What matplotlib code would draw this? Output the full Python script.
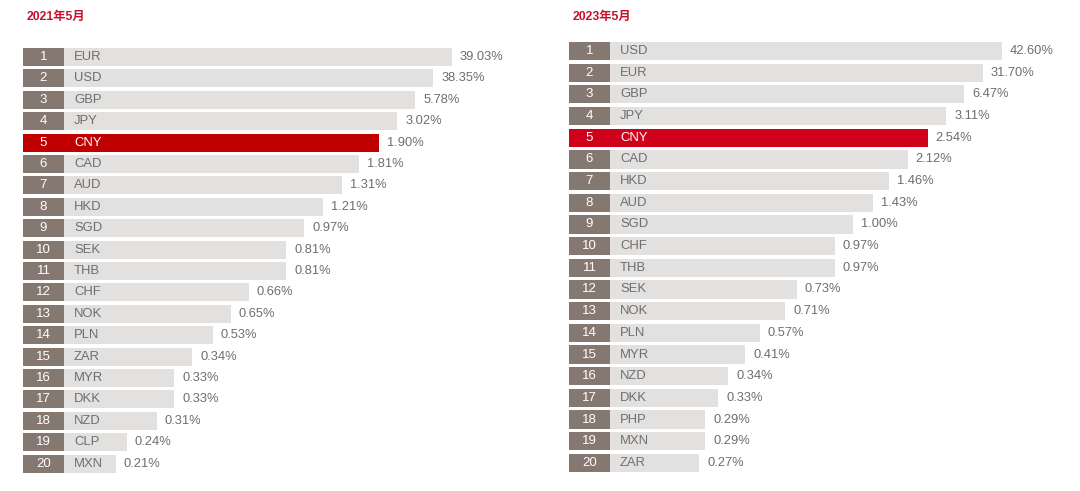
import matplotlib
matplotlib.use("Agg")
import matplotlib.pyplot as plt

# ---------------- DATA ----------------
ranks = list(range(1, 21))

cur_2021 = ["EUR", "USD", "GBP", "JPY", "CNY", "CAD", "AUD", "HKD", "SGD", "SEK",
            "THB", "CHF", "NOK", "PLN", "ZAR", "MYR", "DKK", "NZD", "CLP", "MXN"]
share_2021 = ["39.03%", "38.35%", "5.78%", "3.02%", "1.90%", "1.81%", "1.31%", "1.21%",
              "0.97%", "0.81%", "0.81%", "0.66%", "0.65%", "0.53%", "0.34%", "0.33%",
              "0.33%", "0.31%", "0.24%", "0.21%"]
# bar length as drawn in the picture (longest = 100), not proportional to share
len_2021 = [100, 95.6, 91.4, 87.2, 83.0, 78.4, 74.4, 70.0, 65.6, 61.4,
            61.4, 52.6, 48.4, 44.2, 39.5, 35.3, 35.3, 31.2, 24.2, 21.6]

cur_2023 = ["USD", "EUR", "GBP", "JPY", "CNY", "CAD", "HKD", "AUD", "SGD", "CHF",
            "THB", "SEK", "NOK", "PLN", "MYR", "NZD", "DKK", "PHP", "MXN", "ZAR"]
share_2023 = ["42.60%", "31.70%", "6.47%", "3.11%", "2.54%", "2.12%", "1.46%", "1.43%",
              "1.00%", "0.97%", "0.97%", "0.73%", "0.71%", "0.57%", "0.41%", "0.34%",
              "0.33%", "0.29%", "0.29%", "0.27%"]
len_2023 = [100, 95.6, 91.3, 87.1, 82.8, 78.2, 74.0, 70.3, 65.5, 61.4,
            61.4, 52.6, 49.9, 44.1, 40.7, 36.8, 34.5, 31.5, 31.5, 30.1]

# ---------------- STYLE ----------------
W, H = 1080, 491
BOX = "#857870"
BAR = "#e3e1df"
TXT = "#6e6e6e"
FONT = ["Liberation Sans", "DejaVu Sans"]

fig = plt.figure(figsize=(W / 100, H / 100), dpi=100)


def panel(x0, top_px, pitch, ppu, cur, share, lengths, title, red):
    box_w = 41 / ppu   # rank box width in bar units
    y_top = top_px - pitch / 2
    y_bot = top_px + 19 * pitch + pitch / 2
    ax_w = 500
    ax = fig.add_axes([x0 / W, 1 - y_bot / H, ax_w / W, (y_bot - y_top) / H])
    ax.set_xlim(0, ax_w / ppu)
    ax.set_ylim(19.5, -0.5)
    ax.axis("off")

    ys = list(range(len(cur)))
    colors = [red if c == "CNY" else BAR for c in cur]
    box_colors = [red if c == "CNY" else BOX for c in cur]
    ax.barh(ys, lengths, height=0.84, color=colors, linewidth=0)
    ax.barh(ys, [box_w] * len(ys), height=0.84, color=box_colors, linewidth=0)

    for y, r, c, s, l in zip(ys, ranks, cur, share, lengths):
        hl = c == "CNY"
        ax.text(box_w / 2, y, str(r), ha="center", va="center",
                color="white", fontsize=9.5, family=FONT)
        ax.text(box_w + 10 / ppu, y, c, ha="left", va="center",
                color="white" if hl else TXT, fontsize=9.4, family=FONT)
        ax.text(l + 8 / ppu, y, s, ha="left", va="center",
                color=TXT, fontsize=9.3, family=FONT)

    fig.text((x0 + 4) / W, 1 - 17 / H, title, ha="left", va="center",
             color="#c8102e", fontsize=8.8, fontweight="bold",
             family=["Liberation Sans", "Noto Sans CJK SC"])


panel(23, 57, 21.4, 4.29, cur_2021, share_2021, len_2021, "2021年5月", "#c00000")
panel(569, 51, 21.68, 4.33, cur_2023, share_2023, len_2023, "2023年5月", "#d0021b")

fig.savefig("out.png", dpi=100, facecolor="white")
